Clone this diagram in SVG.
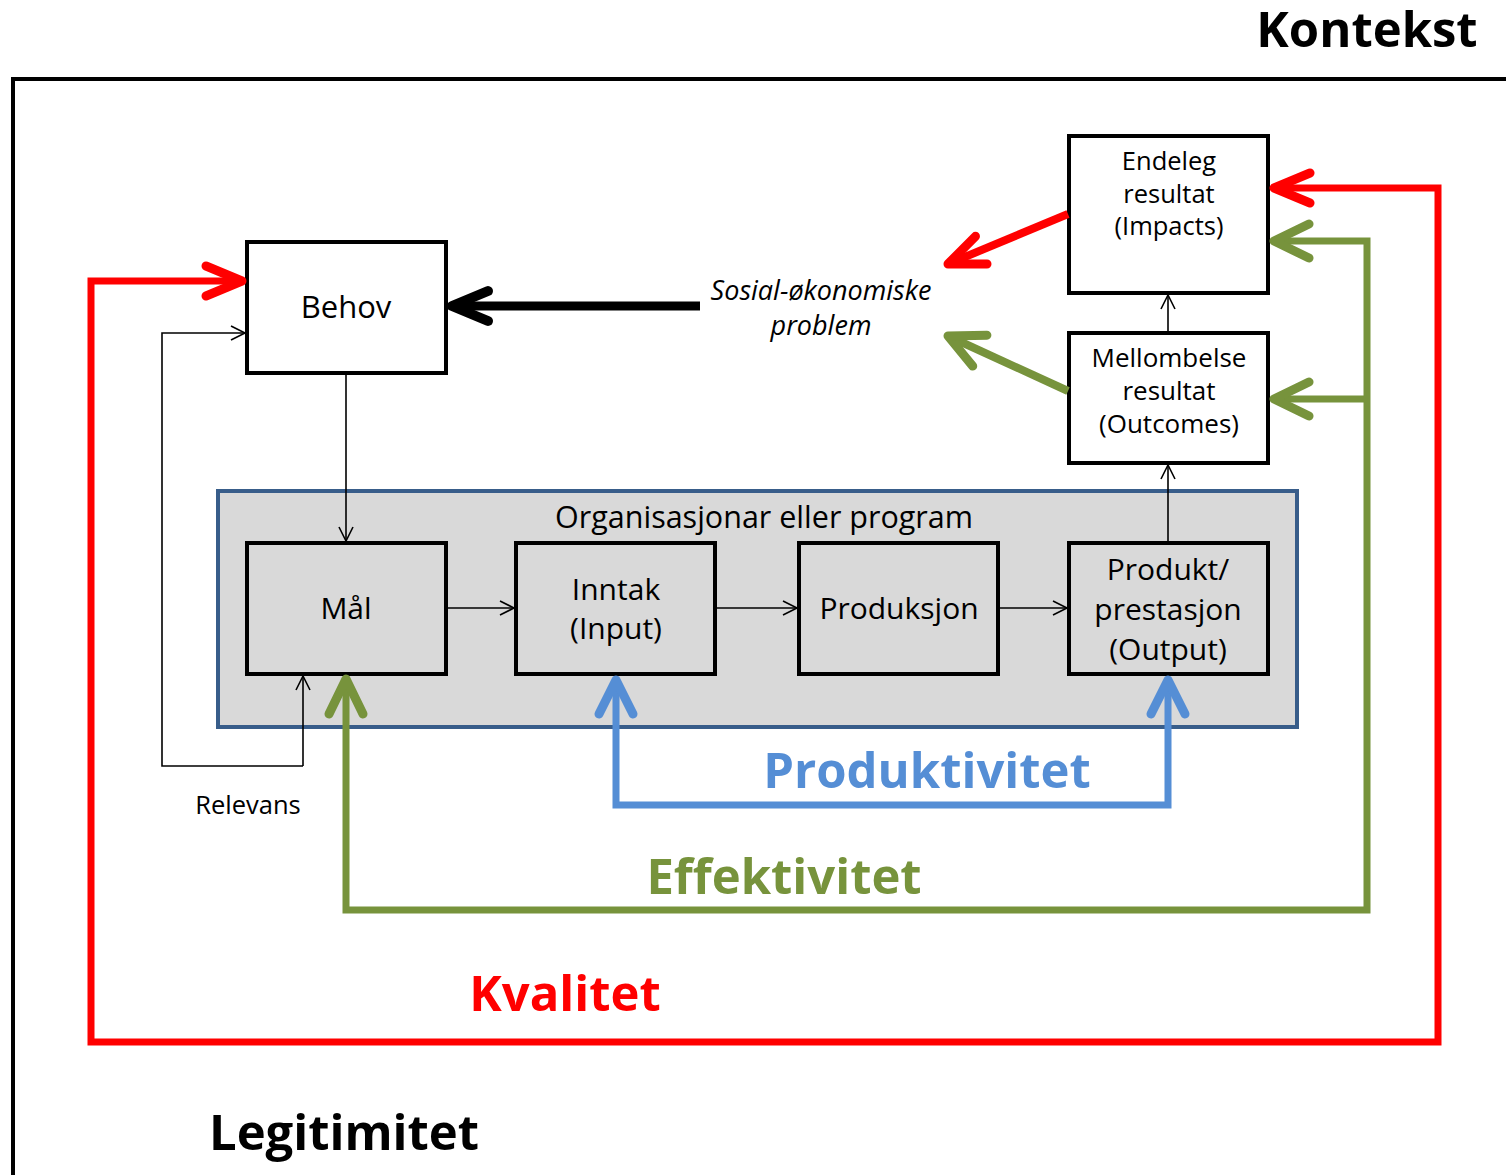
<svg xmlns="http://www.w3.org/2000/svg" width="1506" height="1175" viewBox="0 0 1506 1175">
<style>
  .box { fill: #ffffff; stroke: #000000; stroke-width: 4; }
  .gbox { fill: #d9d9d9; stroke: #000000; stroke-width: 4; }
  .t { font-family: "Open Sans", "Noto Sans", sans-serif; fill: #000000; text-anchor: middle; }
  .big { font-family: "Open Sans", "Noto Sans", sans-serif; font-weight: bold; font-size: 49px; text-anchor: middle; }
  .thin { fill: none; stroke: #000000; stroke-width: 1.6; }
  .thick { fill: none; stroke-linejoin: miter; }
</style>
<defs>
  <marker id="ahRed" markerUnits="userSpaceOnUse" orient="auto-start-reverse" refX="0" refY="0" markerWidth="1" markerHeight="1" overflow="visible">
    <path d="M-36,-15 L0,0 L-36,15" fill="none" stroke="#ff0000" stroke-width="9" stroke-linecap="round" stroke-linejoin="round"/>
  </marker>
  <marker id="ahGreen" markerUnits="userSpaceOnUse" orient="auto-start-reverse" refX="0" refY="0" markerWidth="1" markerHeight="1" overflow="visible">
    <path d="M-35,-17 L0,0 L-35,17" fill="none" stroke="#77933c" stroke-width="9" stroke-linecap="round" stroke-linejoin="round"/>
  </marker>
  <marker id="ahBlue" markerUnits="userSpaceOnUse" orient="auto-start-reverse" refX="0" refY="0" markerWidth="1" markerHeight="1" overflow="visible">
    <path d="M-34,-17 L0,0 L-34,17" fill="none" stroke="#558ed5" stroke-width="9" stroke-linecap="round" stroke-linejoin="round"/>
  </marker>
  <marker id="ahBlack" markerUnits="userSpaceOnUse" orient="auto" refX="0" refY="0" markerWidth="1" markerHeight="1" overflow="visible">
    <path d="M-36,-15 L0,0 L-36,15" fill="none" stroke="#000000" stroke-width="10" stroke-linecap="round" stroke-linejoin="round"/>
  </marker>
  <marker id="ahThin" markerUnits="userSpaceOnUse" orient="auto" refX="0" refY="0" markerWidth="1" markerHeight="1" overflow="visible">
    <path d="M-14,-7 L0,0 L-14,7" fill="none" stroke="#000000" stroke-width="1.6"/>
  </marker>
</defs>

<!-- context frame -->
<g id="frame">
  <path d="M13,1175 L13,79 L1506,79" fill="none" stroke="#000000" stroke-width="4"/>
  <text class="big" x="1367" y="47" fill="#000000">Kontekst</text>
  <text class="big" x="344" y="1150" fill="#000000">Legitimitet</text>
</g>

<!-- organisation container -->
<g id="org">
  <rect x="218" y="491" width="1079" height="236" fill="#d9d9d9" stroke="#385d8a" stroke-width="4"/>
  <text class="t" x="764" y="528" font-size="30.5">Organisasjonar eller program</text>
</g>

<g id="behov">
  <rect class="box" x="247" y="242" width="199" height="131"/>
  <text class="t" x="346" y="318" font-size="31">Behov</text>
</g>

<g id="endeleg">
  <rect class="box" x="1069" y="136" width="199" height="157"/>
  <text class="t" x="1169" y="170" font-size="25.5">Endeleg</text>
  <text class="t" x="1169" y="203" font-size="25.5">resultat</text>
  <text class="t" x="1169" y="235" font-size="25.5">(Impacts)</text>
</g>

<g id="mellombelse">
  <rect class="box" x="1069" y="333" width="199" height="130"/>
  <text class="t" x="1169" y="367" font-size="26">Mellombelse</text>
  <text class="t" x="1169" y="400" font-size="26">resultat</text>
  <text class="t" x="1169" y="433" font-size="26">(Outcomes)</text>
</g>

<g id="maal">
  <rect class="gbox" x="247" y="543" width="199" height="131"/>
  <text class="t" x="346" y="619" font-size="30">Mål</text>
</g>

<g id="inntak">
  <rect class="gbox" x="516" y="543" width="199" height="131"/>
  <text class="t" x="616" y="600" font-size="30">Inntak</text>
  <text class="t" x="616" y="639" font-size="30">(Input)</text>
</g>

<g id="produksjon">
  <rect class="gbox" x="799" y="543" width="199" height="131"/>
  <text class="t" x="899" y="619" font-size="30">Produksjon</text>
</g>

<g id="produkt">
  <rect class="gbox" x="1069" y="543" width="199" height="131"/>
  <text class="t" x="1168" y="580" font-size="30">Produkt/</text>
  <text class="t" x="1168" y="620" font-size="30">prestasjon</text>
  <text class="t" x="1168" y="660" font-size="30">(Output)</text>
</g>

<g id="sosial">
  <text class="t" x="821" y="300" font-size="27" font-style="italic">Sosial-økonomiske</text>
  <text class="t" x="821" y="335" font-size="27" font-style="italic">problem</text>
</g>

<g id="connectors">
  <!-- thin arrows -->
  <path class="thin" d="M346,373 L346,541" marker-end="url(#ahThin)"/>
  <path class="thin" d="M446,608 L514,608" marker-end="url(#ahThin)"/>
  <path class="thin" d="M715,608 L797,608" marker-end="url(#ahThin)"/>
  <path class="thin" d="M998,608 L1067,608" marker-end="url(#ahThin)"/>
  <path class="thin" d="M1168,543 L1168,465" marker-end="url(#ahThin)"/>
  <path class="thin" d="M1168,333 L1168,295" marker-end="url(#ahThin)"/>
  <path class="thin" d="M303,766 L303,676" marker-end="url(#ahThin)"/>
  <path class="thin" d="M303,766 L162,766 L162,333 L245,333" marker-end="url(#ahThin)"/>

  <!-- black thick arrow -->
  <path d="M700,306 L452,306" fill="none" stroke="#000000" stroke-width="9" marker-end="url(#ahBlack)"/>

  <!-- red loop -->
  <path class="thick" d="M242,281 L91,281 L91,1042 L1438,1042 L1438,188 L1274,188" stroke="#ff0000" stroke-width="7" marker-start="url(#ahRed)" marker-end="url(#ahRed)"/>
  <path class="thick" d="M1068,214 L948,264" stroke="#ff0000" stroke-width="8" marker-end="url(#ahRed)"/>

  <!-- green loop -->
  <path class="thick" d="M346,679 L346,910 L1367,910 L1367,241 L1274,241" stroke="#77933c" stroke-width="7" marker-start="url(#ahGreen)" marker-end="url(#ahGreen)"/>
  <path class="thick" d="M1367,399 L1274,399" stroke="#77933c" stroke-width="7" marker-end="url(#ahGreen)"/>
  <path class="thick" d="M1068,391 L948,336" stroke="#77933c" stroke-width="8" marker-end="url(#ahGreen)"/>

  <!-- blue loop -->
  <path class="thick" d="M616,680 L616,805 L1168,805 L1168,680" stroke="#558ed5" stroke-width="7" marker-start="url(#ahBlue)" marker-end="url(#ahBlue)"/>
</g>

<g id="labels">
  <text class="t" x="248" y="814" font-size="25.5">Relevans</text>
  <text class="big" x="927" y="788" fill="#558ed5">Produktivitet</text>
  <text class="big" x="784" y="894" fill="#77933c">Effektivitet</text>
  <text class="big" x="565" y="1011" fill="#ff0000">Kvalitet</text>
</g>
</svg>
